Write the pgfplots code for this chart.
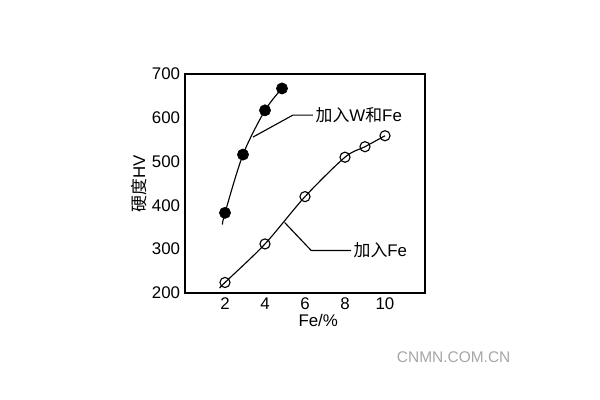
\documentclass[border=0pt]{standalone}
\usepackage{pgfplots}
\pgfplotsset{compat=1.18}
\usepackage{fontspec}
\setmainfont{Liberation Sans}
\newfontfamily\cjk{Noto Sans CJK SC}
\begin{document}
\begin{tikzpicture}
\useasboundingbox (0,0) rectangle (15cm,10cm);
\begin{axis}[
  at={(4.625cm,2.675cm)}, anchor=south west,
  scale only axis, width=6cm, height=5.475cm,
  xmin=0, xmax=12, ymin=200, ymax=700,
  xtick={2,4,6,8,10}, ytick={200,300,400,500,600,700},
  tick style={draw=none},
  axis line style={line width=1pt},
  ticklabel style={font=\fontsize{12}{14}\selectfont},
  /pgf/number format/assume math mode=true,
  xlabel={Fe/\%}, xlabel style={font=\fontsize{12}{14}\selectfont, yshift=4pt, xshift=0.33cm},
  ylabel={\cjk 硬度\rmfamily HV}, ylabel style={font=\fontsize{12}{14}\selectfont, yshift=-3pt},
  clip=false,
]
\addplot[black, line width=0.8pt, smooth, mark=none] coordinates {(1.87,356) (2,383) (2.9,516) (4,617) (4.85,667)};
\addplot[black, only marks, mark=*, mark size=4pt] coordinates {(2,383) (2.9,516) (4,617) (4.85,667)};
\addplot[black, line width=0.8pt, smooth, mark=none] coordinates {(1.73,211) (2,224) (4,312) (6,420) (8,510) (9,534) (10,559)};
\addplot[black, only marks, mark=o, mark size=3.6pt, mark options={line width=0.8pt}] coordinates {(2,224) (4,312) (6,420) (8,510) (9,534) (10,559)};
\draw[line width=0.8pt] (axis cs:3.4,556) -- (axis cs:5.39,606) -- (axis cs:6.39,606);
\node[anchor=west, font=\fontsize{12}{14}\selectfont, inner sep=1pt] at (axis cs:6.45,606) {\cjk 加入\rmfamily W\cjk 和\rmfamily Fe};
\draw[line width=0.8pt] (axis cs:4.98,361) -- (axis cs:6.31,297) -- (axis cs:8.3,297);
\node[anchor=west, font=\fontsize{12}{14}\selectfont, inner sep=1pt] at (axis cs:8.35,297) {\cjk 加入\rmfamily Fe};
\end{axis}
\node[anchor=west, text=gray!70, font=\fontsize{11}{13}\selectfont] at (9.8cm,1.075cm) {CNMN.COM.CN};
\end{tikzpicture}
\end{document}
